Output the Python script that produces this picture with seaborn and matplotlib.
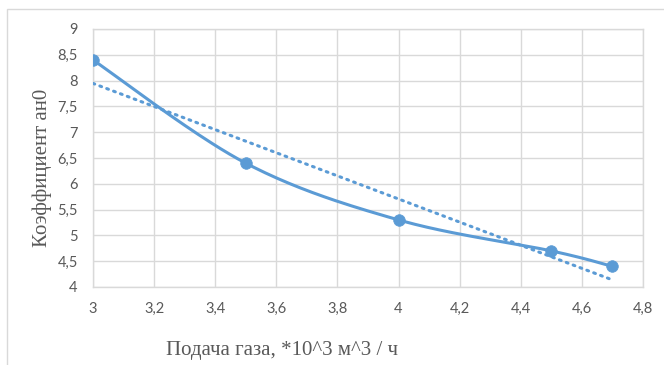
import numpy as np
import pandas as pd
import matplotlib
matplotlib.use("Agg")
import matplotlib.pyplot as plt
from matplotlib.patches import Rectangle
from matplotlib.ticker import FuncFormatter, MultipleLocator
import seaborn as sns

# Measured values
gas_flow = [3.0, 3.5, 4.0, 4.5, 4.7]
coefficient = [8.4, 6.4, 5.3, 4.7, 4.4]

x_title = "Подача газа, *10^3 м^3 / ч"
y_title = "Коэффициент ан0"

BLUE = "#5B9BD5"
GRID = "#D9D9D9"
TEXT = "#595959"

sns.set_theme(style="white")
plt.rcParams["font.family"] = ["Lato", "DejaVu Sans"]


def smooth_curve(xs, ys, steps=40):
    """Catmull-Rom style cubic Bezier smoothing through the points."""
    p = np.column_stack([xs, ys]).astype(float)
    n = len(p)
    out = []
    for i in range(n - 1):
        p0 = p[i - 1] if i > 0 else p[i]
        p1 = p[i]
        p2 = p[i + 1]
        p3 = p[i + 2] if i + 2 < n else p[i + 1]
        c1 = p1 + (p2 - p0) / 6.0
        c2 = p2 - (p3 - p1) / 6.0
        t = np.linspace(0, 1, steps)[:, None]
        seg = ((1 - t) ** 3) * p1 + 3 * ((1 - t) ** 2) * t * c1 \
            + 3 * (1 - t) * t ** 2 * c2 + t ** 3 * p2
        out.append(seg if i == 0 else seg[1:])
    return np.vstack(out)


df = pd.DataFrame({"x": gas_flow, "y": coefficient})
curve = smooth_curve(gas_flow, coefficient)
curve_df = pd.DataFrame({"x": curve[:, 0], "y": curve[:, 1]})

fig = plt.figure(figsize=(6.64, 3.65), dpi=100)
ax = fig.add_axes([93 / 664, 1 - 287 / 365, (643 - 93) / 664, (287 - 29) / 365])

# chart frame
fig.patches.append(Rectangle((7 / 664, -0.1), 1.2, 1 - 9 / 365 + 0.1,
                             transform=fig.transFigure, fill=False,
                             edgecolor=GRID, linewidth=1.0, zorder=0))

sns.regplot(data=df, x="x", y="y", ax=ax, scatter=False, ci=None,
            line_kws=dict(color=BLUE, linewidth=2.2, linestyle=(0, (0.6, 1.8)),
                          dash_capstyle="round", zorder=3))
sns.lineplot(data=curve_df, x="x", y="y", ax=ax, color=BLUE, linewidth=2.2,
             sort=False, zorder=4)
sns.scatterplot(data=df, x="x", y="y", ax=ax, color=BLUE, s=70,
                edgecolor=BLUE, linewidth=0.5, zorder=5)

ax.set_xlim(3, 4.8)
ax.set_ylim(4, 9)
ax.xaxis.set_major_locator(MultipleLocator(0.2))
ax.yaxis.set_major_locator(MultipleLocator(0.5))


def comma_fmt(v, _pos):
    s = f"{v:.1f}".rstrip("0").rstrip(".")
    return s.replace(".", ",")


ax.xaxis.set_major_formatter(FuncFormatter(comma_fmt))
ax.yaxis.set_major_formatter(FuncFormatter(comma_fmt))
ax.grid(True, color=GRID, linewidth=1.0)
ax.set_axisbelow(True)
for sp in ax.spines.values():
    sp.set_color(GRID)
    sp.set_linewidth(1.0)
ax.tick_params(axis="both", length=0, labelsize=10.5, labelcolor=TEXT, pad=11)
ax.set_xlabel("")
ax.set_ylabel("")

fig.text(282 / 664, 1 - 351 / 365, x_title, ha="center", va="center",
         fontsize=15, color=TEXT, family=["Liberation Serif", "DejaVu Serif"])
fig.text(42 / 664, 1 - 168 / 365, y_title, ha="center", va="center",
         rotation=90, fontsize=15, color=TEXT,
         family=["Liberation Serif", "DejaVu Serif"])

fig.savefig("out.png", dpi=100)
